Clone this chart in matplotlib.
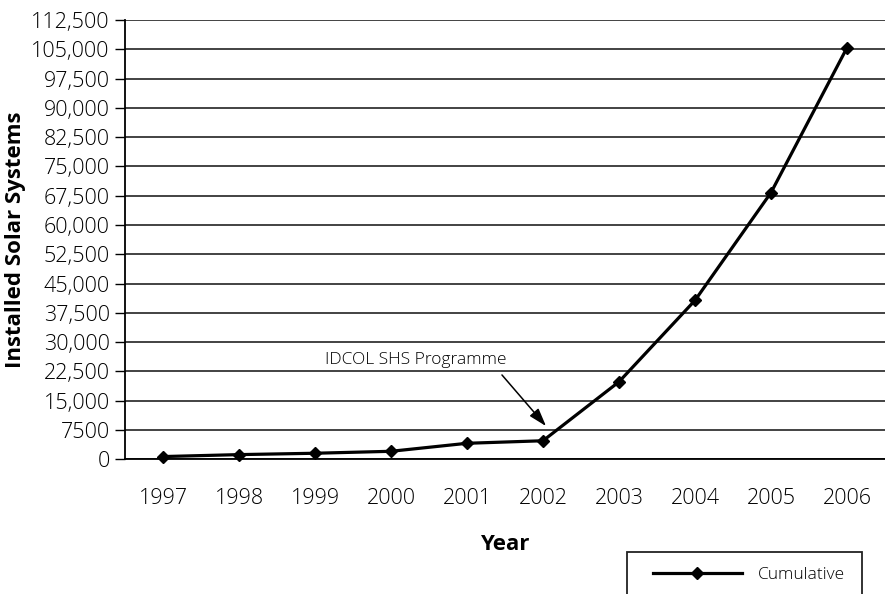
import matplotlib
matplotlib.use("Agg")
import matplotlib.pyplot as plt
from matplotlib.patches import Rectangle

years = ["1997", "1998", "1999", "2000", "2001", "2002", "2003", "2004", "2005", "2006"]
cumulative = [700, 1200, 1550, 2050, 4100, 4750, 19850, 40700, 68300, 105400]
y_ticks = list(range(0, 112501, 7500))
y_tick_labels = ["0", "7500"] + [f"{v:,}" for v in y_ticks[2:]]

plt.rcParams["font.family"] = ["Open Sans", "DejaVu Sans"]

W, H = 885, 594
fig = plt.figure(figsize=(W / 100, H / 100), dpi=100)
ax = fig.add_axes([125 / W, 1 - 459.3 / H, 1 - 125 / W, (459.3 - 20) / H])

x = list(range(len(years)))
line, = ax.plot(x, cumulative, color="black", lw=2.3, marker="D", markersize=6.5,
                markerfacecolor="black", markeredgecolor="black", label="Cumulative",
                zorder=3, clip_on=False)

ax.set_xlim(-0.5, len(years) - 0.5)
ax.set_ylim(0, 112500)
ax.set_yticks(y_ticks)
ax.set_yticklabels(y_tick_labels)
ax.set_xticks(x)
ax.set_xticklabels(years)
ax.tick_params(axis="y", length=7, width=1, labelsize=15.5, pad=4)
ax.tick_params(axis="x", length=0, labelsize=15.5, pad=21)
for lbl in ax.get_xticklabels() + ax.get_yticklabels():
    lbl.set_fontweight("light")

for s in ["top", "right"]:
    ax.spines[s].set_visible(False)
ax.spines["left"].set_linewidth(1.3)
ax.spines["bottom"].set_linewidth(1.3)
ax.grid(axis="y", color="#222222", lw=1.2)
ax.set_axisbelow(True)

ax.set_ylabel("Installed Solar Systems", fontsize=16, fontweight="bold", labelpad=4)
ax.set_xlabel("Year", fontsize=16, fontweight="bold", labelpad=18)

ax.annotate("IDCOL SHS Programme", xy=(5.04, 8500), xytext=(3.32, 23300),
            ha="center", va="bottom", fontsize=12.5, fontweight="light")
ax.annotate("", xy=(5.04, 8500), xytext=(4.46, 21600),
            arrowprops=dict(arrowstyle="-|>,head_length=1.1,head_width=0.35",
                            color="black", lw=1.1, shrinkA=0, shrinkB=0))

# legend: frame drawn separately so it can run past the bottom edge
fig.patches.append(Rectangle((627 / W, 1 - 600 / H), (862 - 627) / W, (600 - 551.7) / H,
                             transform=fig.transFigure, facecolor="white",
                             edgecolor="#222222", lw=1.3))
fig.legend(handles=[line], labels=["Cumulative"], loc="center left",
           bbox_to_anchor=(653 / W, 1 - 575 / H), frameon=False,
           handlelength=5.1, borderpad=0, borderaxespad=0,
           handletextpad=0.96, prop={"weight": "light", "size": 12.5})

fig.savefig("out.png", dpi=100)
